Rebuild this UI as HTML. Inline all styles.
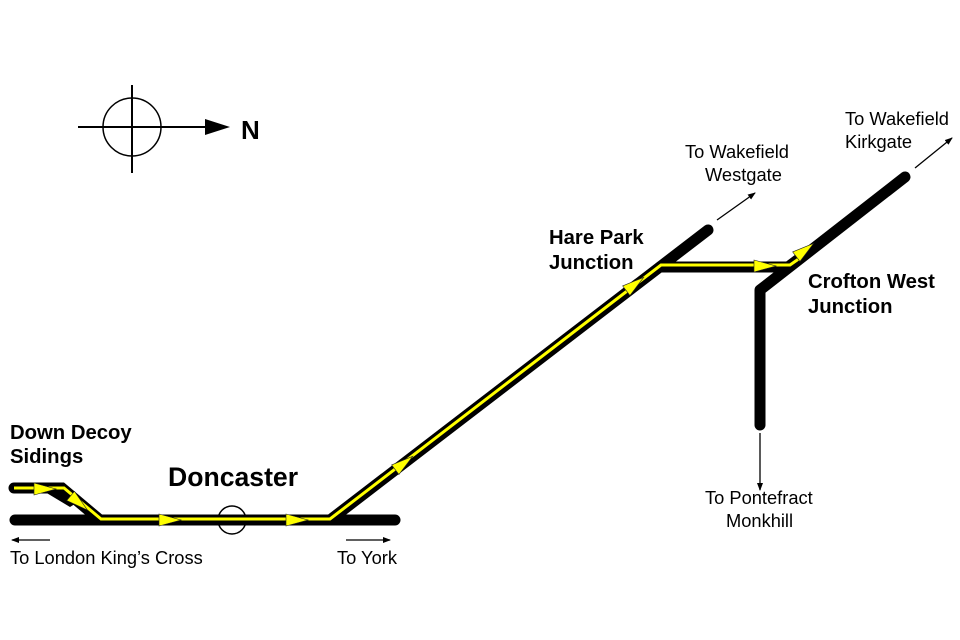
<!DOCTYPE html>
<html><head><style>
html,body{margin:0;padding:0;background:#fff;}
svg{display:block;}
text{font-family:"Liberation Sans",Arial,sans-serif;}
</style></head><body>
<svg width="960" height="640" viewBox="0 0 960 640" xmlns="http://www.w3.org/2000/svg">
<defs>
<marker id="ah" markerWidth="8" markerHeight="6" refX="7" refY="3" orient="auto" markerUnits="userSpaceOnUse"><path d="M0,0 L8,3 L0,6 z" fill="#000"/></marker>
<polygon id="ya" points="-11,-6 11,0 -11,6" fill="#ffff00" stroke="#222" stroke-width="0.6"/>
</defs>
<circle cx="132" cy="127" r="29" fill="none" stroke="#000" stroke-width="1.5"/>
<line x1="132" y1="85" x2="132" y2="173" stroke="#000" stroke-width="2"/>
<line x1="78" y1="127" x2="210" y2="127" stroke="#000" stroke-width="2"/>
<polygon points="205,119 230,127 205,135" fill="#000"/>
<text x="241" y="139" font-size="26" font-weight="bold">N</text>

<g stroke="#000" stroke-width="11" stroke-linecap="round" stroke-linejoin="miter" fill="none">
<line x1="15" y1="520" x2="395" y2="520"/>
<polyline points="14,488 62,488 100,520"/>
<polyline points="330,520 708,230"/>
<polyline points="660,267 788,267 800,258"/>
<polyline points="760,425 760,290 905,177" stroke-linejoin="round"/>
</g>
<polygon points="45,492 62,488 78,502 70,507" fill="#000"/>
<circle cx="232" cy="520" r="14" fill="none" stroke="#000" stroke-width="1.5"/>

<polyline points="14,488 64,488 101,519 330,519 661,265 790,265 800,258" fill="none" stroke="#ffff00" stroke-width="3"/>

<use href="#ya" transform="translate(45,489)"/>
<use href="#ya" transform="translate(79,503) rotate(40)"/>
<use href="#ya" transform="translate(170,520)"/>
<use href="#ya" transform="translate(297,520)"/>
<use href="#ya" transform="translate(404,463) rotate(-37.5)"/>
<use href="#ya" transform="translate(635,284) rotate(-37.5)"/>
<use href="#ya" transform="translate(765,266)"/>
<use href="#ya" transform="translate(805,250) rotate(-37.5)"/>

<g stroke="#000" stroke-width="1.3" marker-end="url(#ah)">
<line x1="50" y1="540" x2="12" y2="540"/>
<line x1="346" y1="540" x2="390" y2="540"/>
<line x1="760" y1="433" x2="760" y2="490"/>
<line x1="717" y1="220" x2="755" y2="193"/>
<line x1="915" y1="168" x2="952" y2="138"/>
</g>

<g font-size="18.3">
<text x="10" y="564">To London King’s Cross</text>
<text x="337" y="564">To York</text>
<text x="705" y="504">To Pontefract</text>
<text x="726" y="527">Monkhill</text>
<text x="685" y="158">To Wakefield</text>
<text x="705" y="181">Westgate</text>
<text x="845" y="125">To Wakefield</text>
<text x="845" y="148">Kirkgate</text>
</g>
<g font-size="20.3" font-weight="bold">
<text x="10" y="439">Down Decoy</text>
<text x="10" y="463">Sidings</text>
<text x="549" y="244">Hare Park</text>
<text x="549" y="269">Junction</text>
<text x="808" y="288">Crofton West</text>
<text x="808" y="313">Junction</text>
</g>
<text x="168" y="486" font-size="26.6" font-weight="bold">Doncaster</text>
</svg>
</body></html>
